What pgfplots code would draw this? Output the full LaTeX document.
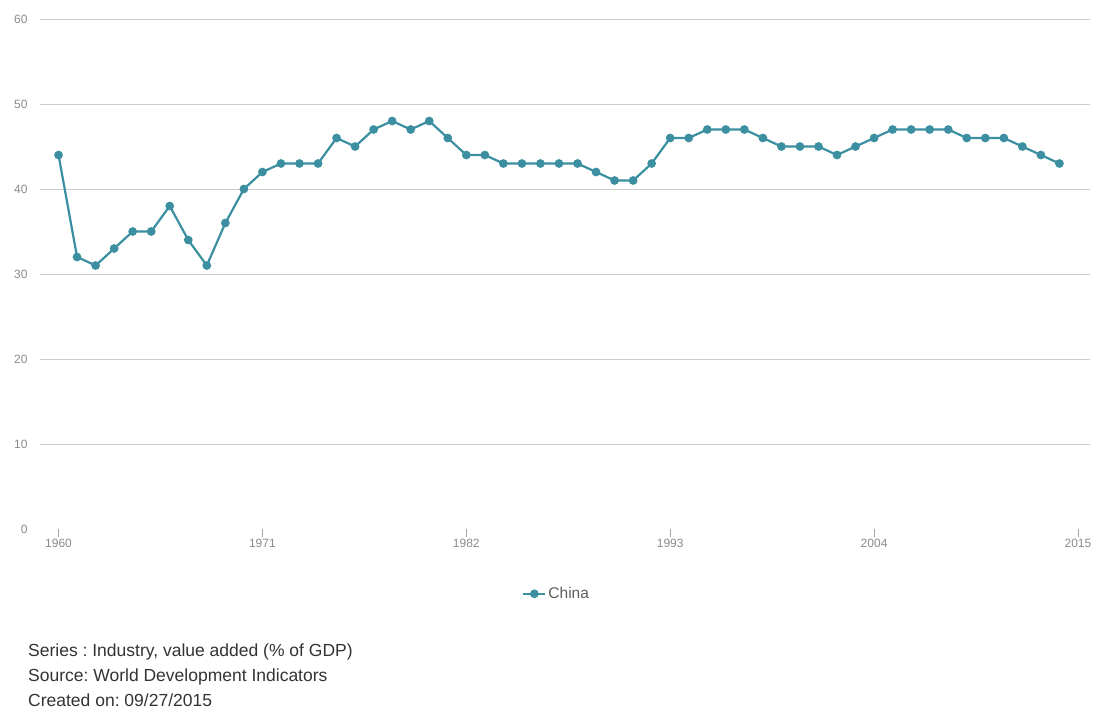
\documentclass[border=0pt]{standalone}
\usepackage{pgfplots}
\pgfplotsset{compat=1.18}
\usepackage{fontspec}
\setmainfont{Liberation Sans}
\definecolor{teal1}{HTML}{3B8FA0}
\definecolor{gridc}{HTML}{CCCCCC}
\definecolor{tickc}{HTML}{8A8A8A}
\definecolor{txtc}{HTML}{333333}
\begin{document}
\frenchspacing
\begin{tikzpicture}[x=1pt,y=1pt]
\path (0,0) rectangle (1099,-709);
\begin{axis}[
  at={(40pt,-529pt)}, anchor=south west,
  scale only axis, width=1050pt, height=510pt,
  xmin=1959, xmax=2015.65, ymin=0, ymax=60,
  axis x line*=bottom, axis y line*=left,
  axis line style={draw=none},
  xtick={1960,1971,1982,1993,2004,2015},
  ytick={10,20,30,40,50,60},
  extra y ticks={0}, extra y tick style={grid=none},
  ymajorgrids, grid style={gridc, line width=0.8pt},
  ytick style={draw=none},
  xtick style={draw=gridc!80!black, line width=0.6pt},
  tick align=outside, major tick length=8pt,
  /pgf/number format/assume math mode=true,
  /pgf/number format/1000 sep={},
  ticklabel style={font=\fontsize{12}{14}\selectfont, text=tickc},
  yticklabel style={xshift=-1pt},
  xticklabel style={yshift=1pt},
  legend style={at={(0.492,-0.127)}, anchor=center, draw=none, fill=none,
    font=\fontsize{15.5}{18}\selectfont, text=txtc!80!white},
  legend image code/.code={
    \draw[teal1, line width=2.2pt] (0pt,0pt) -- (22pt,0pt);
    \fill[teal1] (11pt,0pt) circle (3.2pt);},
  clip=false,
]
\addplot[teal1, line width=2.2pt, mark=*, mark size=3.2pt, mark options={fill=teal1, draw=teal1}] coordinates {
(1960,44) (1961,32) (1962,31) (1963,33) (1964,35) (1965,35) (1966,38) (1967,34) (1968,31) (1969,36)
(1970,40) (1971,42) (1972,43) (1973,43) (1974,43) (1975,46) (1976,45) (1977,47) (1978,48) (1979,47)
(1980,48) (1981,46) (1982,44) (1983,44) (1984,43) (1985,43) (1986,43) (1987,43) (1988,43) (1989,42)
(1990,41) (1991,41) (1992,43) (1993,46) (1994,46) (1995,47) (1996,47) (1997,47) (1998,46) (1999,45)
(2000,45) (2001,45) (2002,44) (2003,45) (2004,46) (2005,47) (2006,47) (2007,47) (2008,47) (2009,46)
(2010,46) (2011,46) (2012,45) (2013,44) (2014,43)
};
\addlegendentry{China}
\end{axis}
\begin{scope}[every node/.style={anchor=base west, inner sep=0pt, text=txtc, font=\fontsize{17.5}{20}\selectfont}]
\node at (28,-656) {Series : Industry, value added (\% of GDP)};
\node at (28,-681) {Source: World Development Indicators};
\node at (28,-706) {Created on: 09/27/2015};
\end{scope}
\end{tikzpicture}
\end{document}
